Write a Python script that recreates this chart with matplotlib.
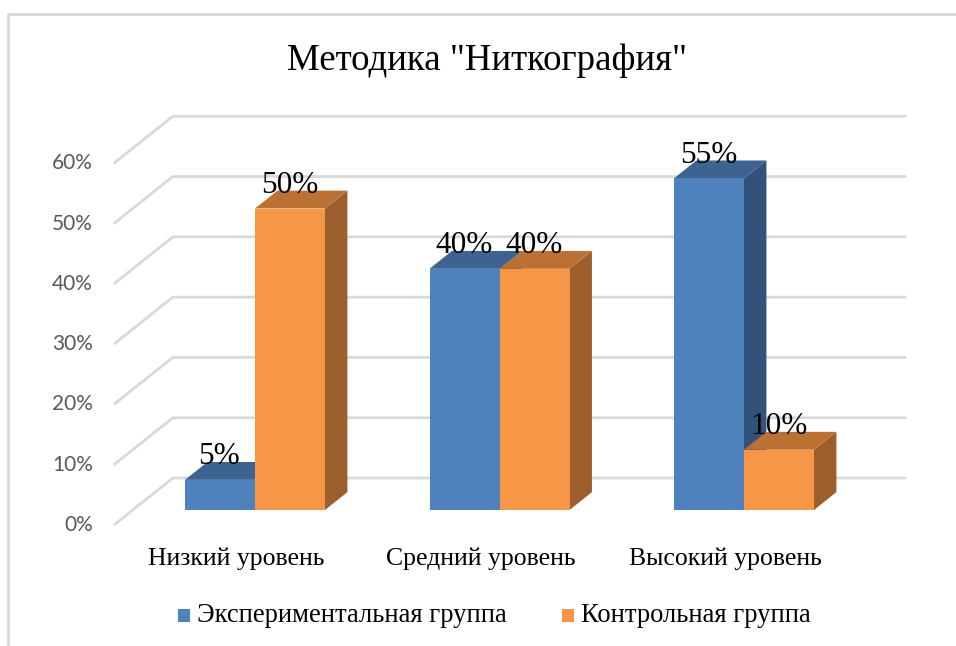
import matplotlib
matplotlib.use("Agg")
import matplotlib.pyplot as plt
from matplotlib.patches import Polygon, Rectangle
from matplotlib.lines import Line2D

title = 'Методика "Ниткография"'
categories = ["Низкий уровень", "Средний уровень", "Высокий уровень"]
series_names = ["Экспериментальная группа", "Контрольная группа"]
experimental = [5, 40, 55]
control = [50, 40, 10]
y_ticks = [0, 10, 20, 30, 40, 50, 60]

# face colours: front, top, side
colors = {
    0: ("#4F81BD", "#3D6491", "#33527A"),
    1: ("#F79646", "#BB7034", "#9C5E2C"),
}

W, H = 956, 646
fig = plt.figure(figsize=(W / 100, H / 100), dpi=100)
ax = fig.add_axes([0, 0, 1, 1])
ax.set_axis_off()

# pixel scale of the plot: one category = 244.5 px, 10 % = 60.3 px
px_x = 244.5
px_y = 6.03
x0_px, y0_px = 255, 510
ax.set_xlim(-x0_px / px_x, (W - x0_px) / px_x)
ax.set_ylim(-(H - y0_px) / px_y, y0_px / px_y)

# depth vector for whole floor depth and bar placement in depth
ddx = 59 / px_x
ddy = 47 / px_y
zf, zb = 0.32, 0.70


def proj(x, y, z):
    return (x + (z - zf) * ddx, y + (z - zf) * ddy)


serif = "Liberation Serif"
grid_c = "#D9D9D9"

# gridlines: diagonal on the side wall, then along the back wall
for t in y_ticks:
    p0 = proj(-0.5, t, 0)
    p1 = proj(-0.5, t, 1)
    p2 = proj(2.5, t, 1)
    ax.plot([p0[0], p1[0], p2[0]], [p0[1], p1[1], p2[1]], color=grid_c, lw=2, zorder=1,
            solid_capstyle="butt")
    ax.text(p0[0] - 21 / px_x, p0[1], f"{t}%", ha="right", va="center",
            fontsize=15, color="#595959", family="Lato")

bar_w = 70 / px_x
for i in range(len(categories)):
    for s, vals in enumerate([experimental, control]):
        v = vals[i]
        xl = i - bar_w + s * bar_w
        xr = xl + bar_w
        front_c, top_c, side_c = colors[s]
        z = 2 + i * 3 + s
        side = [proj(xr, 0, zf), proj(xr, 0, zb), proj(xr, v, zb), proj(xr, v, zf)]
        top = [proj(xl, v, zf), proj(xl, v, zb), proj(xr, v, zb), proj(xr, v, zf)]
        ax.add_patch(Polygon(side, closed=True, fc=side_c, ec="none", zorder=z))
        ax.add_patch(Polygon(top, closed=True, fc=top_c, ec="none", zorder=z))
        ax.add_patch(Rectangle((xl, 0), bar_w, v, fc=front_c, ec="none", zorder=z))
        lx, ly = proj((xl + xr) / 2, v, zb)
        ax.text((xl + xr) / 2 - 0.5 / px_x, ly - 0.35, f"{v}%", ha="center", va="baseline",
                fontsize=22.5, family=serif, color="black", zorder=20)
    cx, cy = proj(i, 0, 0)
    ax.text(cx, cy - 40 / px_y, categories[i], ha="center", va="baseline",
            fontsize=18.5, family=serif, color="black")

# title
fig.text(487 / W, 1 - 70 / H, title, ha="center", va="baseline", fontsize=26.6,
         family=serif, color="black")

# legend
leg_y = 1 - 622 / H
for s, (name, mx) in enumerate(zip(series_names, [178, 562])):
    fig.add_artist(Rectangle((mx / W, leg_y), 12 / W, 13 / H,
                             transform=fig.transFigure, fc=colors[s][0], ec="none"))
    fig.text((mx + 19) / W, leg_y, name, ha="left", va="baseline", fontsize=19.2,
             family=serif, color="black")

# chart area border (left and top edges visible)
fig.add_artist(Line2D([8 / W, 8 / W, 1], [0, 1 - 14 / H, 1 - 14 / H],
                      transform=fig.transFigure, color=grid_c, lw=2))

fig.savefig("out.png", dpi=100, facecolor="white")
